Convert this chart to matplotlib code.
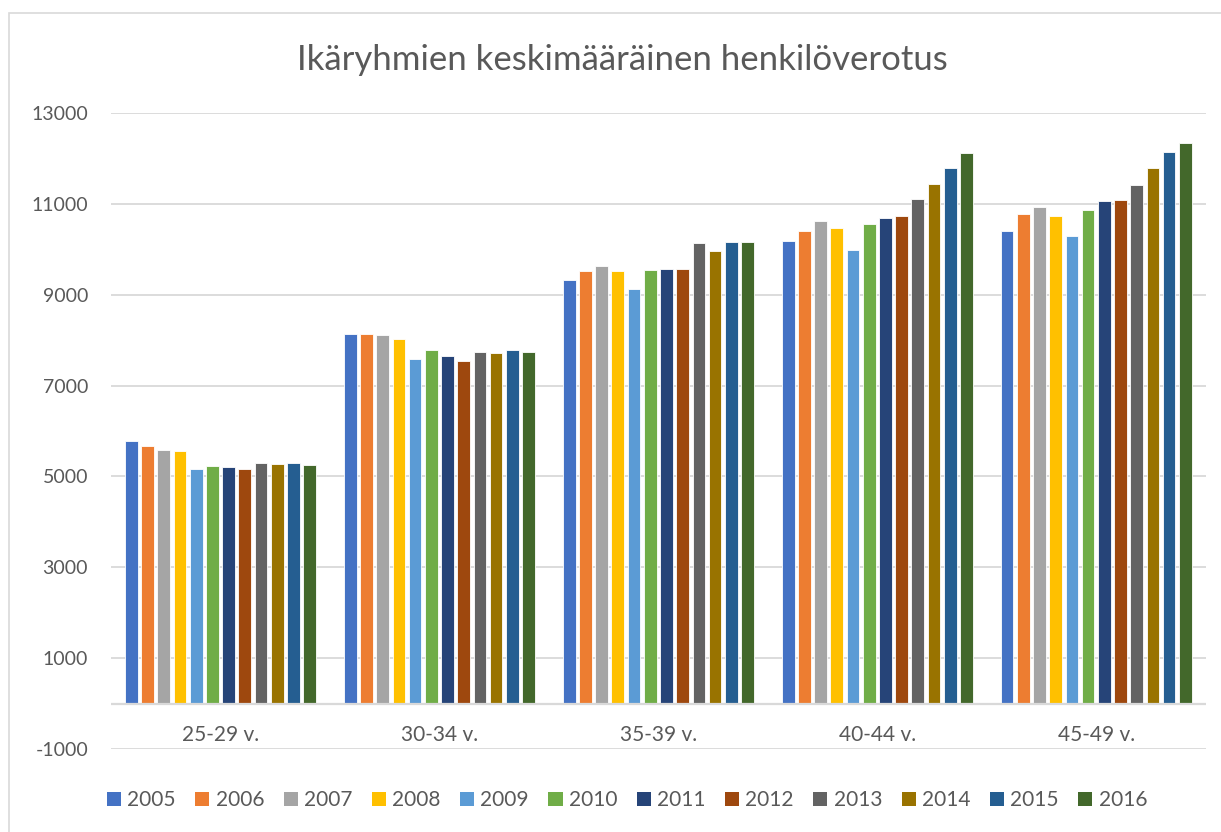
import matplotlib
matplotlib.use("Agg")
import matplotlib.pyplot as plt
import numpy as np
from matplotlib.patches import Rectangle, Patch

categories = ["25-29 v.", "30-34 v.", "35-39 v.", "40-44 v.", "45-49 v."]
years = ["2005", "2006", "2007", "2008", "2009", "2010",
         "2011", "2012", "2013", "2014", "2015", "2016"]
v2005 = [5790, 8143, 9321, 10187, 10391]
v2006 = [5668, 8136, 9512, 10407, 10765]
v2007 = [5587, 8107, 9622, 10626, 10927]
v2008 = [5558, 8020, 9512, 10457, 10721]
v2009 = [5162, 7587, 9123, 9989, 10282]
v2010 = [5235, 7778, 9549, 10545, 10853]
v2011 = [5213, 7646, 9563, 10692, 11051]
v2012 = [5162, 7549, 9563, 10721, 11073]
v2013 = [5286, 7734, 10134, 11099, 11411]
v2014 = [5272, 7719, 9958, 11433, 11780]
v2015 = [5301, 7778, 10149, 11791, 12125]
v2016 = [5242, 7734, 10165, 12106, 12326]
series = [v2005, v2006, v2007, v2008, v2009, v2010,
          v2011, v2012, v2013, v2014, v2015, v2016]
colors = ["#4472C4", "#ED7D31", "#A5A5A5", "#FFC000", "#5B9BD5", "#70AD47",
          "#264478", "#9E480E", "#636363", "#997300", "#255E91", "#43682B"]

plt.rcParams['font.family'] = ['Lato', 'DejaVu Sans']
W, H = 1221, 832
fig = plt.figure(figsize=(W / 100, H / 100), dpi=100)
fig.patch.set_facecolor("white")

# chart border (left and top visible)
fig.add_artist(Rectangle((9 / W, -0.1), 1.2, (H - 13) / H + 0.1,
                         transform=fig.transFigure, fill=False,
                         edgecolor="#d9d9d9", linewidth=1.2))

left, right = 111 / W, 1205.7 / W
bottom, top = 1 - 749.3 / H, 1 - 112.7 / H
ax = fig.add_axes([left, bottom, right - left, top - bottom])

n = len(series)
pitch = 0.074
width = 0.058
x = np.arange(len(categories))
for i, (vals, c) in enumerate(zip(series, colors)):
    offs = (i - (n - 1) / 2) * pitch
    ax.bar(x + offs, vals, width=width, color=c, edgecolor="white",
           linewidth=0.6, zorder=3, label=years[i])

ax.set_xlim(-0.5, len(categories) - 0.5)
ax.set_ylim(-1000, 13000)
ax.set_yticks(np.arange(-1000, 13001, 2000))
ax.set_yticklabels([str(v) for v in range(-1000, 13001, 2000)])
ax.set_xticks([])
ax.tick_params(axis='y', length=0, labelsize=14, labelcolor="#595959", pad=16.5)
for s in ax.spines.values():
    s.set_visible(False)
ax.grid(axis='y', color="#d9d9d9", linewidth=1.3, zorder=0)
ax.axhline(0, color="#d9d9d9", linewidth=1.6, zorder=4)
ax.set_facecolor("white")

for xi, cat in zip(x, categories):
    ax.text(xi, -690, cat, ha='center', va='center', fontsize=15,
            color="#595959")

fig.text(622 / W, 1 - 60 / H, "Ikäryhmien keskimääräinen henkilöverotus",
         ha='center', va='center', fontsize=25, color="#595959")

handles = [Patch(facecolor=c, edgecolor='none') for c in colors]
fig.legend(handles, years, loc='center', bbox_to_anchor=(627 / W, 1 - 800 / H),
           ncol=12, frameon=False, fontsize=15, labelcolor="#595959",
           handlelength=0.68, handleheight=0.68, handletextpad=0.3,
           columnspacing=0.93, borderaxespad=0)

fig.savefig("out.png", dpi=100, facecolor="white")
